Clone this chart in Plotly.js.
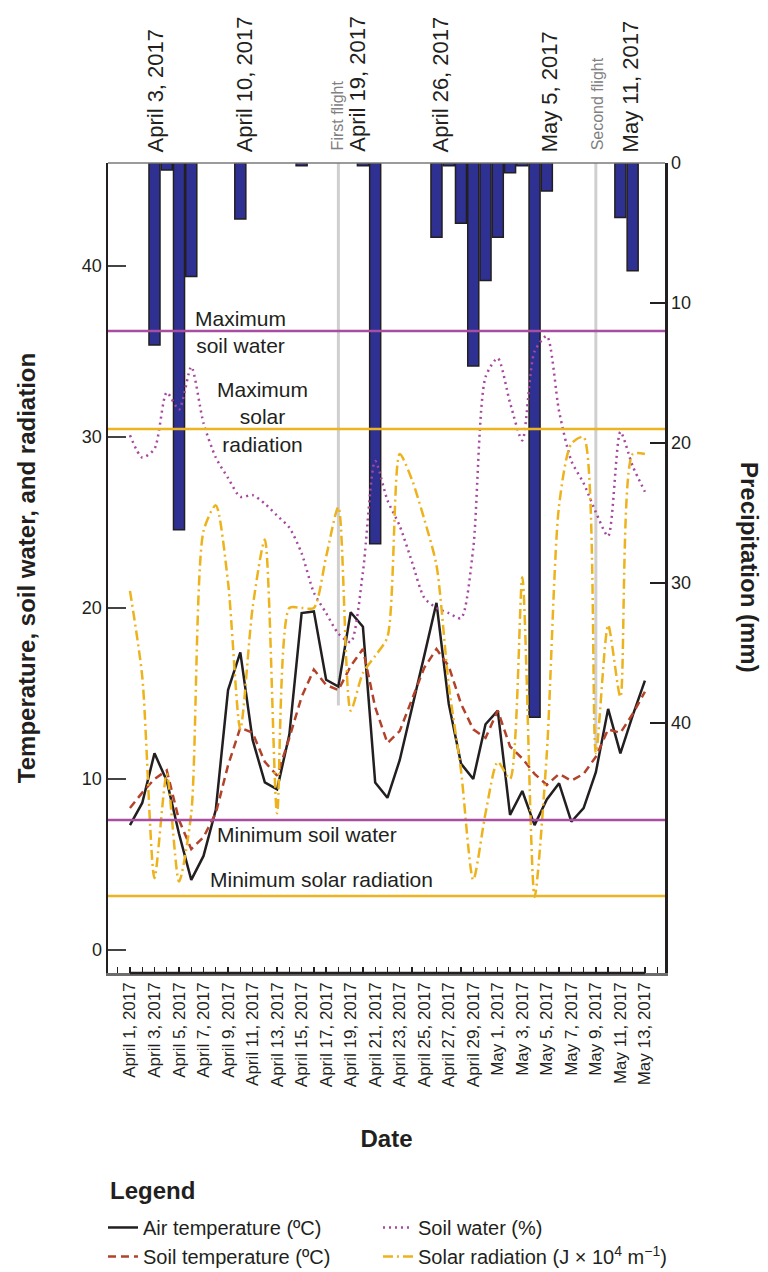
<!DOCTYPE html>
<html>
<head>
<meta charset="utf-8">
<script src="https://cdn.plot.ly/plotly-3.0.1.min.js"></script>
<style>
  html, body { margin: 0; padding: 0; background: #ffffff; }
  #chart { width: 768px; height: 1272px; }
</style>
</head>
<body>
<div id="chart"></div>
<script>
// ---------------- DATA ----------------
const dates = [
  '2017-04-01','2017-04-02','2017-04-03','2017-04-04','2017-04-05','2017-04-06','2017-04-07',
  '2017-04-08','2017-04-09','2017-04-10','2017-04-11','2017-04-12','2017-04-13','2017-04-14',
  '2017-04-15','2017-04-16','2017-04-17','2017-04-18','2017-04-19','2017-04-20','2017-04-21',
  '2017-04-22','2017-04-23','2017-04-24','2017-04-25','2017-04-26','2017-04-27','2017-04-28',
  '2017-04-29','2017-04-30','2017-05-01','2017-05-02','2017-05-03','2017-05-04','2017-05-05',
  '2017-05-06','2017-05-07','2017-05-08','2017-05-09','2017-05-10','2017-05-11','2017-05-12',
  '2017-05-13'
];

const airTemperature = [
  7.3, 8.6, 11.5, 9.9, 6.8, 4.1, 5.5, 8.2, 15.2, 17.4, 12.3, 9.8, 9.4, 12.6, 19.7,
  19.8, 15.8, 15.4, 19.75, 18.9, 9.8, 8.9, 11.1, 14.1, 17.2, 20.3, 14.4, 10.9, 10.0,
  13.2, 14.0, 7.9, 9.3, 7.3, 8.8, 9.75, 7.5, 8.3, 10.4, 14.1, 11.5, 13.7, 15.75
];

const soilTemperature = [
  8.3, 9.2, 10.0, 10.5, 7.6, 5.9, 6.6, 8.0, 10.8, 13.0, 12.7, 11.0, 10.2, 12.4, 14.8,
  16.4, 15.5, 15.2, 16.6, 17.6, 14.2, 12.1, 12.8, 14.6, 16.5, 17.6, 16.6, 14.4, 12.9,
  12.4, 14.0, 11.9, 11.2, 10.3, 9.65, 10.3, 9.9, 10.3, 11.3, 12.9, 12.7, 13.8, 15.1
];

const soilWater = [
  30.1, 28.8, 29.3, 32.6, 31.6, 34.1, 30.8, 28.8, 27.6, 26.5, 26.6, 26.1, 25.4, 24.7,
  23.2, 20.9, 19.7, 18.5, 18.0, 22.1, 28.6, 26.3, 24.8, 22.7, 20.6, 20.0, 19.7, 19.4,
  23.5, 33.5, 34.6, 32.0, 29.8, 35.0, 35.9, 31.5, 28.6, 27.3, 25.6, 24.2, 30.3, 28.3, 26.8
];

const solarRadiation = [
  21.0, 16.0, 4.2, 10.3, 4.0, 8.0, 24.5, 26.0, 21.5, 12.9, 20.0, 24.0, 8.0, 20.0, 20.0,
  20.0, 23.0, 25.9, 14.0, 16.2, 17.2, 18.3, 29.0, 27.5, 25.2, 22.5, 15.5, 10.5, 4.1,
  8.0, 11.0, 10.0, 21.8, 3.1, 11.5, 26.0, 29.6, 30.0, 11.5, 19.0, 14.8, 29.0, 29.0
];

const precipDates = [
  '2017-04-03','2017-04-04','2017-04-05','2017-04-06','2017-04-10','2017-04-15',
  '2017-04-20','2017-04-21','2017-04-26','2017-04-27','2017-04-28','2017-04-29',
  '2017-04-30','2017-05-01','2017-05-02','2017-05-03','2017-05-04','2017-05-05',
  '2017-05-11','2017-05-12'
];
const precipitation = [
  13.0, 0.5, 26.2, 8.1, 4.0, 0.2, 0.2, 27.2, 5.3, 0.2, 4.3, 14.5,
  8.4, 5.3, 0.7, 0.2, 39.6, 2.0, 3.9, 7.7
];

const thresholdNames = ['Maximum soil water', 'Maximum solar radiation', 'Minimum soil water', 'Minimum solar radiation'];
const thresholdValues = [36.2, 30.47, 7.6, 3.16];

const tickDates = [
  '2017-04-01','2017-04-03','2017-04-05','2017-04-07','2017-04-09','2017-04-11','2017-04-13',
  '2017-04-15','2017-04-17','2017-04-19','2017-04-21','2017-04-23','2017-04-25','2017-04-27',
  '2017-04-29','2017-05-01','2017-05-03','2017-05-05','2017-05-07','2017-05-09','2017-05-11',
  '2017-05-13'
];
const tickLabels = [
  'April 1, 2017','April 3, 2017','April 5, 2017','April 7, 2017','April 9, 2017',
  'April 11, 2017','April 13, 2017','April 15, 2017','April 17, 2017','April 19, 2017',
  'April 21, 2017','April 23, 2017','April 25, 2017','April 27, 2017','April 29, 2017',
  'May 1, 2017','May 3, 2017','May 5, 2017','May 7, 2017','May 9, 2017','May 11, 2017',
  'May 13, 2017'
];

const eventDates = ['2017-04-03','2017-04-10','2017-04-19','2017-04-26','2017-05-05','2017-05-11'];
const eventLabels = ['April 3, 2017','April 10, 2017','April 19, 2017','April 26, 2017','May 5, 2017','May 11, 2017'];

const flightDates = ['2017-04-18','2017-05-09'];
const flightLabels = ['First flight','Second flight'];
const flightLineBottom = [14.3, 11.7];

// ---------------- STYLE ----------------
const FONT = 'Liberation Sans, Arial, Helvetica, sans-serif';
const INK = '#231F20';
const C_AIR = '#231F20';
const C_SOILT = '#B3422B';
const C_WATER = '#A5489E';
const C_SOLAR = '#EDB31C';
const C_BAR = '#2E3192';
const C_WATER_LINE = '#A84DA1';
const C_SOLAR_LINE = '#ECB51F';

const traces = [
  {
    type: 'bar', x: precipDates, y: precipitation, yaxis: 'y', xaxis: 'x',
    width: 0.9 * 86400000,
    marker: { color: C_BAR, line: { color: INK, width: 1.5 } },
    showlegend: false, hoverinfo: 'x+y', name: 'Precipitation (mm)'
  },
  {
    type: 'scatter', mode: 'lines', x: dates, y: airTemperature, yaxis: 'y2', legend: 'legend',
    name: 'Air temperature (ºC)', line: { color: C_AIR, width: 2.5 }
  },
  {
    type: 'scatter', mode: 'lines', x: dates, y: soilTemperature, yaxis: 'y2', legend: 'legend',
    name: 'Soil temperature (ºC)', line: { color: C_SOILT, width: 2.5, dash: '8px,5px' }
  },
  {
    type: 'scatter', mode: 'lines', x: dates, y: soilWater, yaxis: 'y2', legend: 'legend2',
    name: 'Soil water (%)', line: { color: C_WATER, width: 2.5, dash: '2px,4px', shape: 'spline', smoothing: 0.7 }
  },
  {
    type: 'scatter', mode: 'lines', x: dates, y: solarRadiation, yaxis: 'y2', legend: 'legend2',
    name: 'Solar radiation (J × 10<sup>4</sup> m<sup>−1</sup>)',
    line: { color: C_SOLAR, width: 2.5, dash: '10px,4px,2px,4px', shape: 'spline', smoothing: 0.7 }
  }
];

const shapes = [];
flightDates.forEach((d, i) => {
  shapes.push({
    type: 'line', xref: 'x', yref: 'y2', x0: d, x1: d, y0: flightLineBottom[i], y1: 46.02,
    line: { color: '#CFCFCF', width: 3 }, layer: 'below'
  });
});
const thrColors = [C_WATER_LINE, C_SOLAR_LINE, C_WATER_LINE, C_SOLAR_LINE];
thresholdValues.forEach((v, i) => {
  shapes.push({
    type: 'line', xref: 'paper', yref: 'y2', x0: 0, x1: 1, y0: v, y1: v,
    line: { color: thrColors[i], width: 2.5 }, layer: 'above'
  });
});
shapes.push({ type: 'line', xref: 'paper', yref: 'paper', x0: 0, x1: 1, y0: 1, y1: 1,
  line: { color: '#7a7a7a', width: 1.5 }, layer: 'above' });
shapes.push({ type: 'line', xref: 'x', yref: 'paper', x0: dates[0], x1: dates[dates.length - 1], y0: 0, y1: 0,
  line: { color: INK, width: 2.5 }, layer: 'above' });

const annotations = [];
const eventShift = [1, 4, 6, 4, 3, 10];
eventDates.forEach((d, i) => {
  annotations.push({
    xref: 'x', yref: 'paper', x: d, y: 1, xanchor: 'center', yanchor: 'bottom',
    yshift: 9, xshift: eventShift[i], textangle: -90, showarrow: false,
    text: eventLabels[i], font: { family: FONT, size: 22, color: INK }
  });
});
const flightShift = [-1, 2];
flightDates.forEach((d, i) => {
  annotations.push({
    xref: 'x', yref: 'paper', x: d, y: 1, xanchor: 'center', yanchor: 'bottom',
    yshift: 11, xshift: flightShift[i], textangle: -90, showarrow: false,
    text: flightLabels[i], font: { family: FONT, size: 16, color: '#808080' }
  });
});
const thrLabelText = ['Maximum<br>soil water', 'Maximum<br>solar<br>radiation', 'Minimum soil water', 'Minimum solar radiation'];
const thrLabelX = [0.237, 0.2765, 0.357, 0.384];
const thrLabelY = [0.791, 0.686, 0.1704, 0.116];
thrLabelText.forEach((t, i) => {
  annotations.push({
    xref: 'paper', yref: 'paper', x: thrLabelX[i], y: thrLabelY[i], xanchor: 'center', yanchor: 'middle',
    showarrow: false, text: t, align: 'center', font: { family: FONT, size: 21, color: INK }
  });
});
annotations.push({
  xref: 'paper', yref: 'paper', x: 1.1526, y: 0.5, xanchor: 'center', yanchor: 'middle',
  textangle: 90, showarrow: false, text: '<b>Precipitation (mm)</b>',
  font: { family: FONT, size: 24, color: INK }
});
annotations.push({
  xref: 'paper', yref: 'paper', x: 0, y: -0.2680, xanchor: 'left', yanchor: 'middle',
  showarrow: false, text: '<b>Legend</b>', font: { family: FONT, size: 24, color: INK }
});

const legendCommon = {
  orientation: 'v', xanchor: 'left', yanchor: 'top', traceorder: 'normal',
  font: { family: FONT, size: 20, color: INK },
  bgcolor: 'rgba(0,0,0,0)', itemwidth: 30
};

const layout = {
  width: 768, height: 1272,
  margin: { l: 108, r: 103, t: 163, b: 299, pad: 0, autoexpand: false },
  paper_bgcolor: '#ffffff', plot_bgcolor: '#ffffff',
  font: { family: FONT, color: INK },
  showlegend: true,
  bargap: 0,
  xaxis: {
    type: 'date',
    range: ['2017-03-30 05:00', '2017-05-14 15:20'],
    tickmode: 'array', tickvals: tickDates, ticktext: tickLabels,
    tickangle: -90, ticks: 'inside', ticklen: 6, tickwidth: 1.3, tickcolor: INK,
    minor: { dtick: 86400000, tick0: '2017-04-01', ticks: 'inside', ticklen: 6, tickwidth: 1.3, tickcolor: INK },
    tickfont: { family: FONT, size: 17, color: INK },
    showline: true, linecolor: '#6d6d6d', linewidth: 2.5,
    showgrid: false, zeroline: false, fixedrange: true,
    title: { text: '<b>Date</b>', font: { family: FONT, size: 24, color: INK }, standoff: 44 },
    automargin: false
  },
  yaxis: {
    side: 'right',
    range: [57.86, 0],
    tickmode: 'array', tickvals: [0, 10, 20, 30, 40],
    ticks: 'inside', ticklen: 15, tickwidth: 1.5, tickcolor: INK,
    tickfont: { family: FONT, size: 18, color: INK },
    showline: true, linecolor: INK, linewidth: 2.5,
    showgrid: false, zeroline: false, automargin: false
  },
  yaxis2: {
    overlaying: 'y', side: 'left',
    range: [-1.345, 46.02],
    tickmode: 'array', tickvals: [0, 10, 20, 30, 40],
    ticks: 'inside', ticklen: 18, tickwidth: 1.5, tickcolor: '#444444',
    tickfont: { family: FONT, size: 18, color: INK },
    showline: true, linecolor: INK, linewidth: 2.5,
    showgrid: false, zeroline: false, automargin: false,
    title: { text: '<b>Temperature, soil water, and radiation</b>', font: { family: FONT, size: 24, color: INK }, standoff: 40 }
  },
  legend: Object.assign({}, legendCommon, { x: -0.009, y: -0.2901 }),
  legend2: Object.assign({}, legendCommon, { x: 0.4847, y: -0.2901 }),
  shapes: shapes,
  annotations: annotations
};

Plotly.newPlot('chart', traces, layout, { displayModeBar: false, staticPlot: true });
</script>
</body>
</html>
